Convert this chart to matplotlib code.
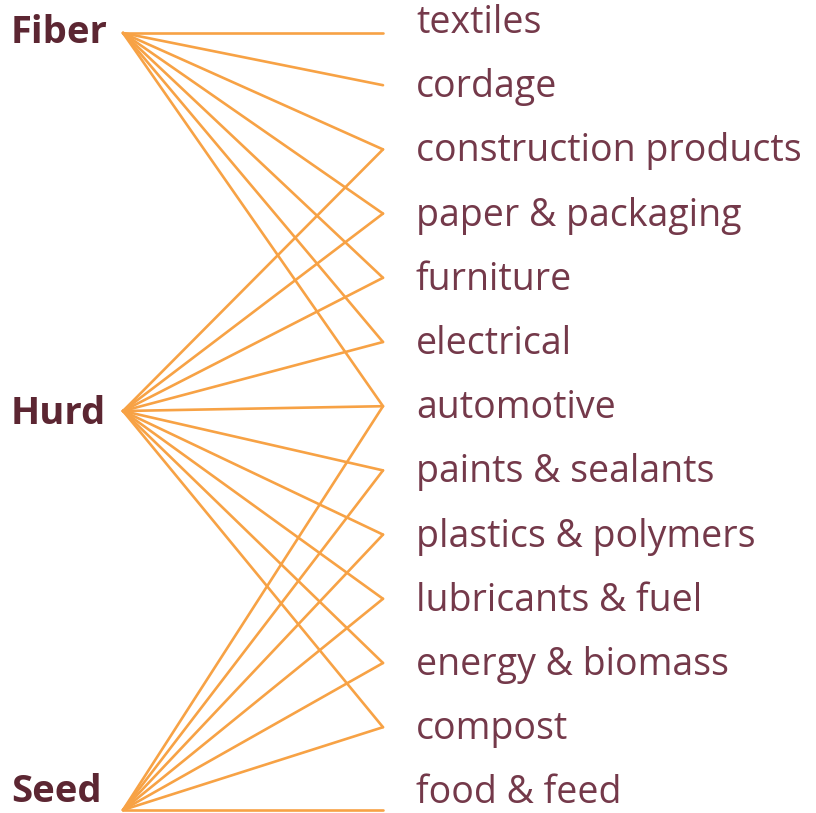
import numpy as np
import matplotlib.pyplot as plt

# sources (left) and uses (right)
sources = ['Fiber', 'Hurd', 'Seed']
uses = ['textiles', 'cordage', 'construction products', 'paper & packaging',
        'furniture', 'electrical', 'automotive', 'paints & sealants',
        'plastics & polymers', 'lubricants & fuel', 'energy & biomass',
        'compost', 'food & feed']

# which uses each source feeds (indices into uses)
links = {
    'Fiber': [0, 1, 2, 3, 4, 5, 6],
    'Hurd': [2, 3, 4, 5, 6, 7, 8, 9, 10, 11],
    'Seed': [6, 7, 8, 9, 10, 11, 12],
}

W, H = 816, 813
fig = plt.figure(figsize=(W / 100, H / 100), dpi=100)
ax = fig.add_axes([0, 0, 1, 1])
ax.set_xlim(0, W)
ax.set_ylim(H, 0)
ax.axis('off')

line_col = '#f7a245'
src_col = '#5c2632'
use_col = '#74394a'

src_y = np.array([33, 411, 810])
src_text_y = np.array([33, 414, 792])
src_x = 123
use_x = 383

use_text_y = 23 + 64.2 * np.arange(len(uses))
use_end_y = use_text_y - 2
use_end_y[0] = src_y[0]
use_end_y[-1] = src_y[-1]

for i, s in enumerate(sources):
    for j in links[s]:
        ax.plot([src_x, use_x], [src_y[i], use_end_y[j]], color=line_col,
                lw=1.9, solid_capstyle='round', zorder=1)
    ax.text(11, src_text_y[i], s, ha='left', va='center', fontsize=27.5,
            fontweight='bold', color=src_col, family='Open Sans')

for j, u in enumerate(uses):
    ax.text(416, use_text_y[j], u, ha='left', va='center', fontsize=27,
            color=use_col, family='Open Sans')

fig.savefig('out.png', dpi=100, facecolor='white')
